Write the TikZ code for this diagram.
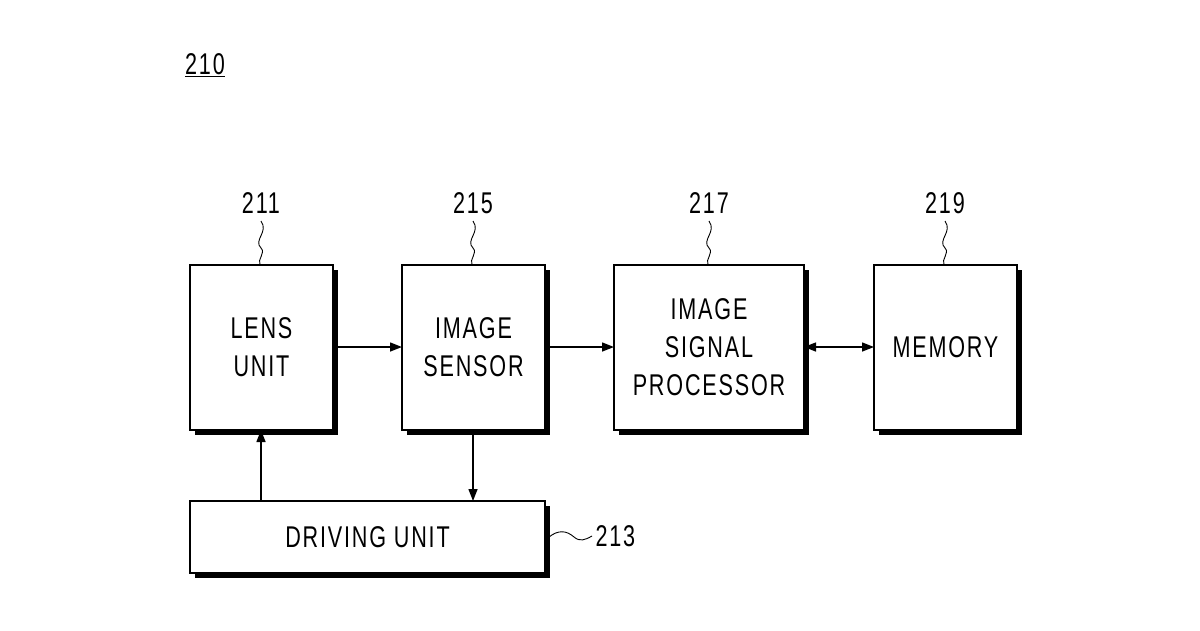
\documentclass[tikz,border=0pt]{standalone}
\usepackage{fontspec}
\setmainfont{Liberation Sans}[FakeStretch=0.72,LetterSpace=6]
\usetikzlibrary{arrows.meta}
\begin{document}
\begin{tikzpicture}[x=1pt,y=-1pt,
  box/.style={draw,line width=1.6pt,fill=white,align=center,font=\fontsize{30}{38}\selectfont},
  shadow/.style={fill=black},
  arr/.style={line width=1.4pt,-{Triangle[length=12pt,width=9pt]}},
  lbl/.style={font=\fontsize{30}{34}\selectfont},
  sq/.style={line width=0.9pt}]
\useasboundingbox (0,0) rectangle (1200,630);
\newcommand\shbox[6]{%
  \fill (#1+5,#2+5) rectangle (#3+5,#4+5);
  \node[box,minimum width=#3-#1,minimum height=#4-#2,inner sep=0pt] (#5) at ({(#1+#3)/2},{(#2+#4)/2}) {#6};}
\shbox{190}{265}{333}{430}{lens}{LENS\\UNIT}
\shbox{402}{265}{545}{430}{sens}{IMAGE\\SENSOR}
\shbox{614}{265}{804}{430}{isp}{IMAGE\\SIGNAL\\PROCESSOR}
\shbox{874}{265}{1017}{430}{mem}{MEMORY}
\shbox{190}{501}{545}{573}{drv}{DRIVING UNIT}
\node[lbl] (n210) at (205,65) {\underline{210}};
\node[lbl] (n211) at (261,203) {211};
\node[lbl] (n215) at (473,203) {215};
\node[lbl] (n217) at (709,203) {217};
\node[lbl] (n219) at (945,203) {219};
\node[lbl,anchor=west] (n213) at (592,536) {213};
\foreach \x/\n in {261/lens,473/sens,709/isp,945/mem}{
  \draw[sq] (\x,221) .. controls (\x+8,232) and (\x-8,240) .. (\x,248) .. controls (\x+5,253) and (\x-4,259) .. (\x-1,265);}
\draw[sq] (549,537) .. controls (558,530) and (566,530) .. (574,537) .. controls (580,542) and (585,540) .. (592,536);
\draw[arr] (333,347) -- (402,347);
\draw[arr] (545,347) -- (614,347);
\draw[arr,{Triangle[length=12pt,width=9pt]}-{Triangle[length=12pt,width=9pt]}] (804,347) -- (874,347);
\draw[arr] (sens.south -| 473,0) -- (473,501);
\draw[arr] (261,501) -- (261,430);
\end{tikzpicture}
\end{document}
